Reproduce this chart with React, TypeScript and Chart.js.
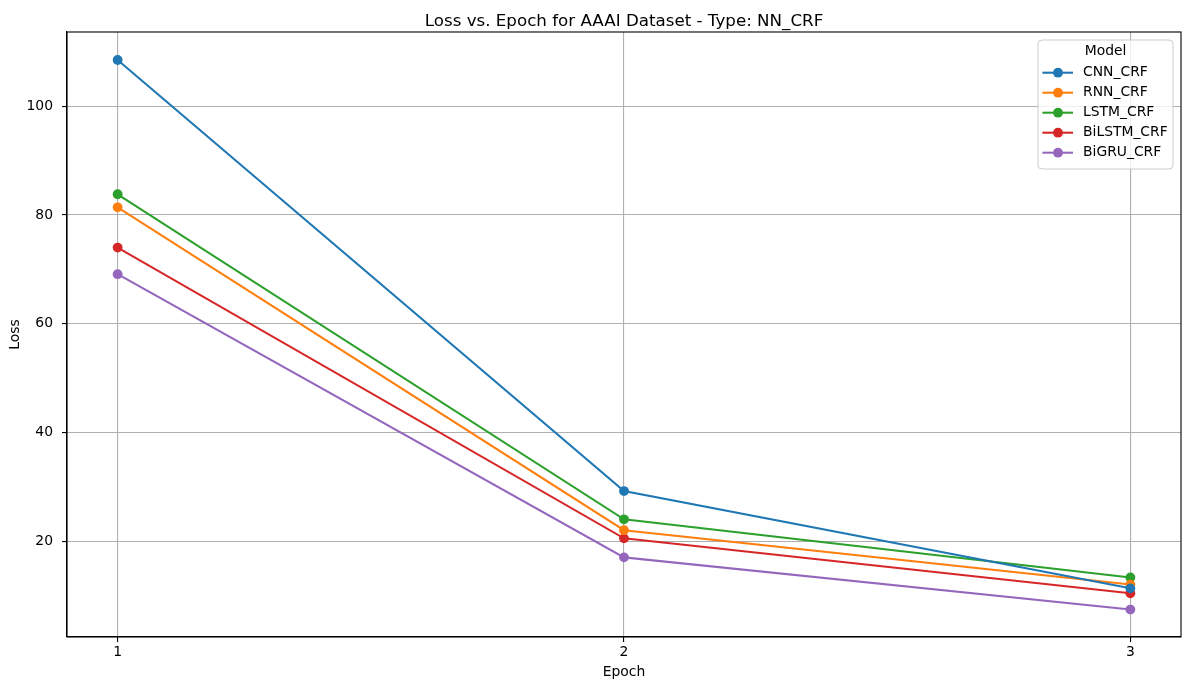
import React, { useEffect, useRef } from "react";
import { Chart, registerables } from "chart.js";

Chart.register(...registerables);

const epochs = [1, 2, 3];
const cnnCrf = [108.5, 29.2, 11.3];
const rnnCrf = [81.4, 22.0, 12.0];
const lstmCrf = [83.8, 24.0, 13.3];
const bilstmCrf = [74.0, 20.5, 10.4];
const bigruCrf = [69.1, 17.0, 7.4];

const seriesNames = ["CNN_CRF", "RNN_CRF", "LSTM_CRF", "BiLSTM_CRF", "BiGRU_CRF"];
const seriesValues = [cnnCrf, rnnCrf, lstmCrf, bilstmCrf, bigruCrf];
const seriesColors = ["#1f77b4", "#ff7f0e", "#2ca02c", "#d62728", "#9467bd"];
const xTicks = [1, 2, 3];
const yTicks = [20, 40, 60, 80, 100];
const chartTitle = "Loss vs. Epoch for AAAI Dataset - Type: NN_CRF";
const legendTitle = "Model";

const FONT = "'DejaVu Sans', sans-serif";

const frameLegendPlugin = {
  id: "frameLegend",
  afterDatasetsDraw(chart: any) {
    const ctx = chart.ctx;
    const a = chart.chartArea;
    ctx.save();
    // frame
    ctx.strokeStyle = "#000";
    ctx.lineWidth = 1.1;
    ctx.strokeRect(a.left, a.top, a.right - a.left, a.bottom - a.top);

    // title centred over the plot area
    ctx.font = `16.7px ${FONT}`;
    ctx.fillStyle = "#000";
    ctx.textAlign = "center";
    ctx.textBaseline = "alphabetic";
    ctx.fillText(chartTitle, (a.left + a.right) / 2, 25.5);

    // legend
    const bx = a.right - 143;
    const by = a.top + 8;
    const bw = 135;
    const bh = 129;
    const r = 4;
    ctx.beginPath();
    ctx.moveTo(bx + r, by);
    ctx.lineTo(bx + bw - r, by);
    ctx.arcTo(bx + bw, by, bx + bw, by + r, r);
    ctx.lineTo(bx + bw, by + bh - r);
    ctx.arcTo(bx + bw, by + bh, bx + bw - r, by + bh, r);
    ctx.lineTo(bx + r, by + bh);
    ctx.arcTo(bx, by + bh, bx, by + bh - r, r);
    ctx.lineTo(bx, by + r);
    ctx.arcTo(bx, by, bx + r, by, r);
    ctx.closePath();
    ctx.fillStyle = "rgba(255,255,255,0.8)";
    ctx.fill();
    ctx.strokeStyle = "#cccccc";
    ctx.lineWidth = 1;
    ctx.stroke();

    ctx.font = `13.9px ${FONT}`;
    ctx.fillStyle = "#000";
    ctx.textBaseline = "middle";
    ctx.textAlign = "center";
    ctx.fillText(legendTitle, bx + 67.5, by + 11.5);
    ctx.textAlign = "left";
    chart.data.datasets.forEach((ds: any, i: number) => {
      const y = by + 32.7 + i * 20;
      ctx.strokeStyle = ds.borderColor;
      ctx.lineWidth = 2.08;
      ctx.beginPath();
      ctx.moveTo(bx + 4.4, y);
      ctx.lineTo(bx + 35, y);
      ctx.stroke();
      ctx.fillStyle = ds.borderColor;
      ctx.beginPath();
      ctx.arc(bx + 20, y, 4.9, 0, Math.PI * 2);
      ctx.fill();
      ctx.fillStyle = "#000";
      ctx.fillText(ds.label, bx + 45, y);
    });
    ctx.restore();
  },
};

export default function App() {
  const ref = useRef<HTMLCanvasElement>(null);
  useEffect(() => {
    if (!ref.current) return;
    const chart = new Chart(ref.current, {
      type: "line",
      data: {
        datasets: seriesNames.map((name, i) => ({
          label: name,
          data: epochs.map((e, j) => ({ x: e, y: seriesValues[i][j] })),
          borderColor: seriesColors[i],
          backgroundColor: seriesColors[i],
          pointBackgroundColor: seriesColors[i],
          pointBorderWidth: 0,
          pointRadius: 4.9,
          borderWidth: 2.08,
          tension: 0,
          fill: false,
        })),
      },
      options: {
        animation: false,
        responsive: false,
        layout: { padding: { left: 0, right: 8, top: 32, bottom: 0 } },
        plugins: {
          legend: { display: false },
          tooltip: { enabled: false },
          title: { display: false },
        },
        scales: {
          x: {
            type: "linear",
            min: 0.9,
            max: 3.1,
            afterBuildTicks: (s: any) => {
              s.ticks = xTicks.map((v) => ({ value: v }));
            },
            afterFit: (s: any) => {
              s.height = 53;
            },
            ticks: {
              color: "#000",
              font: { family: FONT, size: 13.9, lineHeight: 1.2 },
              padding: 2,
              maxRotation: 0,
              callback: (v: any) => String(v),
            },
            grid: {
              color: "#b0b0b0",
              lineWidth: 1.1,
              drawTicks: true,
              tickLength: 5,
              tickColor: "#000",
            },
            border: { display: true, color: "#000", width: 1.1 },
            title: {
              display: true,
              text: "Epoch",
              color: "#000",
              font: { family: FONT, size: 13.9, lineHeight: 1.2 },
              padding: { top: 0, bottom: 9 },
            },
          },
          y: {
            type: "linear",
            min: 2.35,
            max: 113.65,
            afterBuildTicks: (s: any) => {
              s.ticks = yTicks.map((v) => ({ value: v }));
            },
            afterFit: (s: any) => {
              s.width = 67;
            },
            ticks: {
              color: "#000",
              font: { family: FONT, size: 13.9, lineHeight: 1.2 },
              padding: 9,
              callback: (v: any) => String(v),
            },
            grid: {
              color: "#b0b0b0",
              lineWidth: 1.1,
              drawTicks: true,
              tickLength: 5,
              tickColor: "#000",
            },
            border: { display: true, color: "#000", width: 1.1 },
            title: {
              display: true,
              text: "Loss",
              color: "#000",
              font: { family: FONT, size: 13.9, lineHeight: 1.2 },
              padding: { top: 7.4, bottom: 0 },
            },
          },
        },
      },
      plugins: [frameLegendPlugin],
    });
    return () => chart.destroy();
  }, []);
  return (
    <div style={{ position: "fixed", left: 0, top: 0, width: 1189, height: 690, background: "#fff" }}>
      <canvas ref={ref} width={1189} height={690} style={{ display: "block" }} />
    </div>
  );
}
